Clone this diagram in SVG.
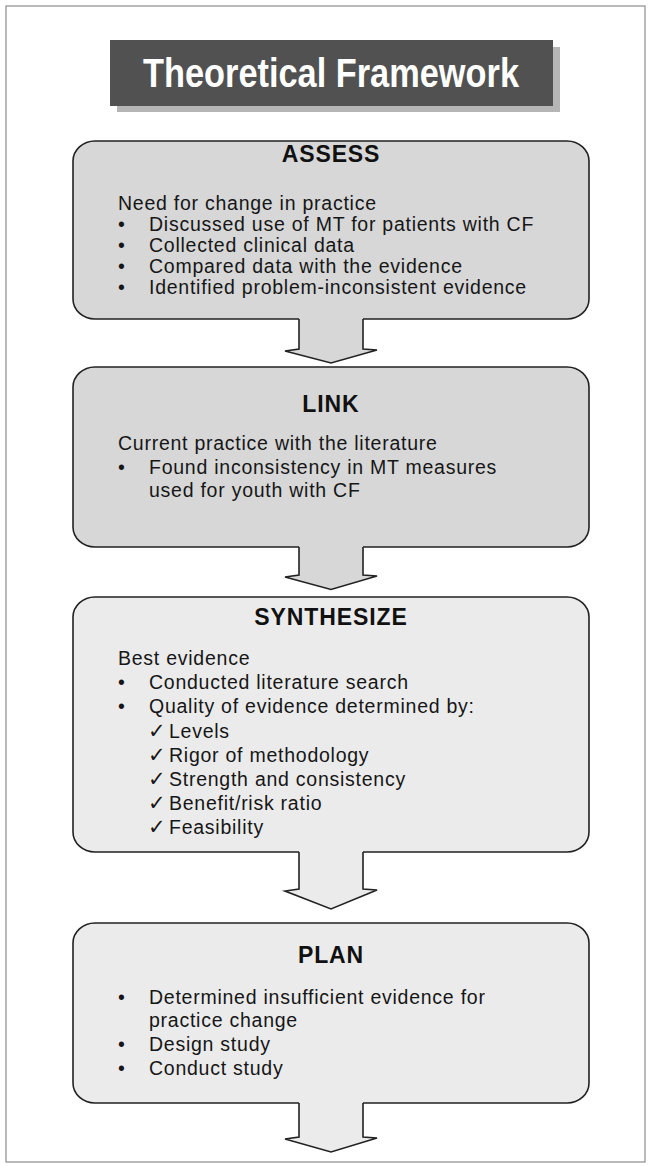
<svg xmlns="http://www.w3.org/2000/svg" width="648" height="1166" viewBox="0 0 648 1166">
<style>
.frame{fill:#ffffff;stroke:#8c8c8c;stroke-width:1.2}
.box{stroke:#222;stroke-width:1.6}
.dark{fill:#d7d7d7}
.light{fill:#ebebeb}
.arrowfill{stroke:none}
.arrowline{fill:none;stroke:#222;stroke-width:1.6;stroke-linejoin:miter}
.head{font-family:"Liberation Sans",Arial,sans-serif;font-weight:bold;font-size:23px;letter-spacing:0.9px;fill:#111;text-anchor:middle}
.body{font-family:"Liberation Sans",Arial,"DejaVu Sans",sans-serif;font-size:19.5px;letter-spacing:0.75px;fill:#161616}
.chk{font-family:"DejaVu Sans","Liberation Sans",sans-serif;font-size:21px;fill:#161616}
.ttl{font-family:"Liberation Sans",Arial,sans-serif;font-weight:bold;font-size:40px;fill:#ffffff;text-anchor:middle}
</style>
<rect class="frame" x="6" y="6" width="639" height="1156"/>

<g id="title">
  <rect x="117" y="47" width="443" height="65" fill="#b5b5b5"/>
  <rect x="110" y="40" width="443" height="66" fill="#515151"/>
  <text class="ttl" x="331" y="87" textLength="376" lengthAdjust="spacingAndGlyphs">Theoretical Framework</text>
</g>

<g id="assess">
  <rect class="box dark" x="73" y="141" width="516" height="178" rx="22" ry="20"/>
  <text class="head" x="331" y="162">ASSESS</text>
  <text class="body" x="118" y="210">Need for change in practice</text>
  <text class="body" x="118" y="231">•</text><text class="body" x="149" y="231">Discussed use of MT for patients with CF</text>
  <text class="body" x="118" y="252">•</text><text class="body" x="149" y="252">Collected clinical data</text>
  <text class="body" x="118" y="273">•</text><text class="body" x="149" y="273">Compared data with the evidence</text>
  <text class="body" x="118" y="294">•</text><text class="body" x="149" y="294">Identified problem-inconsistent evidence</text>
</g>

<g id="link">
  <rect class="box dark" x="73" y="367" width="516" height="180" rx="22" ry="20"/>
  <text class="head" x="331" y="412">LINK</text>
  <text class="body" x="118" y="450">Current practice with the literature</text>
  <text class="body" x="118" y="473.5">•</text><text class="body" x="149" y="473.5">Found inconsistency in MT measures</text>
  <text class="body" x="149" y="497">used for youth with CF</text>
</g>

<g id="synthesize">
  <rect class="box light" x="73" y="597" width="516" height="255" rx="22" ry="20"/>
  <text class="head" x="331" y="625">SYNTHESIZE</text>
  <text class="body" x="118" y="665">Best evidence</text>
  <text class="body" x="118" y="689">•</text><text class="body" x="149" y="689">Conducted literature search</text>
  <text class="body" x="118" y="713">•</text><text class="body" x="149" y="713">Quality of evidence determined by:</text>
  <text class="chk" x="148" y="738">✓</text><text class="body" x="169" y="738">Levels</text>
  <text class="chk" x="148" y="762">✓</text><text class="body" x="169" y="762">Rigor of methodology</text>
  <text class="chk" x="148" y="786">✓</text><text class="body" x="169" y="786">Strength and consistency</text>
  <text class="chk" x="148" y="810">✓</text><text class="body" x="169" y="810">Benefit/risk ratio</text>
  <text class="chk" x="148" y="834">✓</text><text class="body" x="169" y="834">Feasibility</text>
</g>

<g id="plan">
  <rect class="box light" x="73" y="923" width="516" height="180" rx="22" ry="20"/>
  <text class="head" x="331" y="963">PLAN</text>
  <text class="body" x="118" y="1004">•</text><text class="body" x="149" y="1004">Determined insufficient evidence for</text>
  <text class="body" x="149" y="1027">practice change</text>
  <text class="body" x="118" y="1051">•</text><text class="body" x="149" y="1051">Design study</text>
  <text class="body" x="118" y="1075">•</text><text class="body" x="149" y="1075">Conduct study</text>
</g>

<g id="connectors">
  <g id="arrow-assess-link">
    <polygon class="arrowfill" fill="#d7d7d7" points="299,317 299,349 285,351 331,363 377,350 363,349 363,317"/>
    <polyline class="arrowline" points="299,319 299,349 285,351 331,363 377,350 363,349 363,319"/>
  </g>
  <g id="arrow-link-synthesize">
    <polygon class="arrowfill" fill="#d7d7d7" points="299,545 299,575 285,577 331,589.5 377,576 363,575 363,545"/>
    <polyline class="arrowline" points="299,547 299,575 285,577 331,589.5 377,576 363,575 363,547"/>
  </g>
  <g id="arrow-synthesize-plan">
    <polygon class="arrowfill" fill="#ebebeb" points="299,850 299,889 285,891 331,909 377,890 363,889 363,850"/>
    <polyline class="arrowline" points="299,852 299,889 285,891 331,909 377,890 363,889 363,852"/>
  </g>
  <g id="arrow-plan-out">
    <polygon class="arrowfill" fill="#ebebeb" points="299,1101 299,1137 285,1139 331,1152 377,1138 363,1137 363,1101"/>
    <polyline class="arrowline" points="299,1103 299,1137 285,1139 331,1152 377,1138 363,1137 363,1103"/>
  </g>
</g>
</svg>
